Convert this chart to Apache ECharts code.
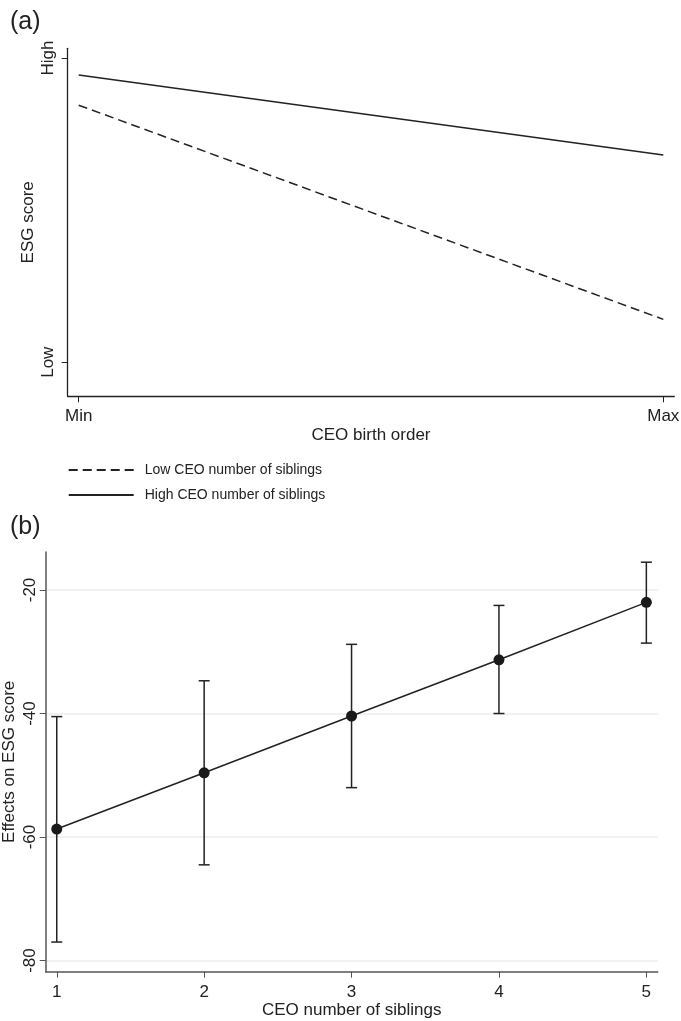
<!DOCTYPE html>
<html><head><meta charset="utf-8">
<script src="https://cdn.jsdelivr.net/npm/echarts@6/dist/echarts.min.js"></script>
<style>html,body{margin:0;padding:0;background:#fff}#c{width:681px;height:1021px}</style>
</head><body><div id="c"></div>
<script>
// ---- Panel (a) data ----
const birthOrder = [0, 1];                 // Min, Max
const birthOrderTicks = ['Min', 'Max'];
const esgLevels = [0, 1];                  // Low, High
const esgTicks = ['Low', 'High'];
const lowSiblingsESG = [0.845, 0.141];
const highSiblingsESG = [0.944, 0.681];
const seriesNames = ['Low CEO number of siblings', 'High CEO number of siblings'];

// ---- Panel (b) data ----
const siblings = [1, 2, 3, 4, 5];
const effect = [-58.7, -49.6, -40.4, -31.3, -22.0];
const ciLow = [-77.0, -64.5, -52.0, -40.0, -28.6];
const ciHigh = [-40.5, -34.7, -28.8, -22.5, -15.5];
const effectTicks = [-80, -60, -40, -20];

const FONT = 'Liberation Sans, Arial, Helvetica, sans-serif';
const INK = '#222';
const chart = echarts.init(document.getElementById('c'), null, {renderer: 'canvas'});

const txt = (size) => ({fontFamily: FONT, fontSize: size, color: INK});

chart.setOption({
  animation: false,
  backgroundColor: '#fff',
  textStyle: {fontFamily: FONT},
  title: [
    {text: '(a)', left: 10, top: 10, padding: 0, textStyle: Object.assign(txt(25), {fontWeight: 'normal'})},
    {text: '(b)', left: 10, top: 515, padding: 0, textStyle: Object.assign(txt(25), {fontWeight: 'normal'})}
  ],
  legend: {
    data: seriesNames, orient: 'vertical', left: 62.7, top: 458,
    itemWidth: 65, itemHeight: 14, itemGap: 11, selectedMode: false,
    itemStyle: {opacity: 0},
    textStyle: Object.assign(txt(14), {padding: [0, 0, 0, 6]})
  },
  grid: [
    {left: 67.7, top: 48.3, width: 606.6, height: 348, containLabel: false, outerBoundsMode: 'none'},
    {left: 45.7, top: 552, width: 612, height: 419.7, containLabel: false, outerBoundsMode: 'none'}
  ],
  xAxis: [
    {
      type: 'value', gridIndex: 0, min: -0.0188, max: 1.0188,
      axisLine: {show: true, onZero: false, lineStyle: {color: INK, width: 1.3}},
      axisTick: {show: true, customValues: birthOrder, length: 6, lineStyle: {color: INK, width: 1}},
      axisLabel: {show: true, customValues: birthOrder, margin: 12, formatter: v => birthOrderTicks[birthOrder.indexOf(v)], ...txt(17)},
      splitLine: {show: false},
      name: 'CEO birth order', nameLocation: 'middle', nameGap: 30.5, nameMoveOverlap: false, nameTextStyle: txt(17)
    },
    {
      type: 'value', gridIndex: 1, min: 0.925, max: 5.077,
      axisLine: {show: true, onZero: false, lineStyle: {color: '#555', width: 1.5}},
      axisTick: {show: true, customValues: siblings, length: 6, lineStyle: {color: '#555', width: 1}},
      axisLabel: {show: true, customValues: siblings, margin: 12.5, ...txt(17)},
      splitLine: {show: false},
      name: 'CEO number of siblings', nameLocation: 'middle', nameGap: 30, nameMoveOverlap: false, nameTextStyle: txt(17)
    }
  ],
  yAxis: [
    {
      type: 'value', gridIndex: 0, min: -0.112, max: 1.032,
      axisLine: {show: true, onZero: false, lineStyle: {color: INK, width: 1.3}},
      axisTick: {show: true, customValues: esgLevels, length: 6, lineStyle: {color: INK, width: 1}},
      axisLabel: {show: true, customValues: esgLevels, rotate: 90, margin: 11, formatter: v => esgTicks[esgLevels.indexOf(v)], ...txt(17)},
      splitLine: {show: false},
      name: 'ESG score', nameLocation: 'middle', nameGap: 31, nameMoveOverlap: false, nameTextStyle: txt(17)
    },
    {
      type: 'value', gridIndex: 1, min: -81.8, max: -13.85,
      axisLine: {show: true, onZero: false, lineStyle: {color: '#555', width: 1.5}},
      axisTick: {show: true, customValues: effectTicks, length: 6, lineStyle: {color: '#555', width: 1}},
      axisLabel: {show: true, customValues: effectTicks, rotate: 90, margin: 7, ...txt(17)},
      splitLine: {show: true, lineStyle: {color: '#ececec', width: 1.5}},
      name: 'Effects on ESG score', nameLocation: 'middle', nameGap: 28, nameMoveOverlap: false, nameTextStyle: txt(17)
    }
  ],
  series: [
    {
      name: seriesNames[0], type: 'line', xAxisIndex: 0, yAxisIndex: 0,
      data: birthOrder.map((x, i) => [x, lowSiblingsESG[i]]),
      symbol: 'none', lineStyle: {color: INK, width: 1.5, type: [9, 5]}, itemStyle: {color: INK}
    },
    {
      name: seriesNames[1], type: 'line', xAxisIndex: 0, yAxisIndex: 0,
      data: birthOrder.map((x, i) => [x, highSiblingsESG[i]]),
      symbol: 'none', lineStyle: {color: INK, width: 1.5}, itemStyle: {color: INK}
    },
    {
      name: 'CI', type: 'custom', xAxisIndex: 1, yAxisIndex: 1,
      data: siblings.map((x, i) => [x, ciLow[i], ciHigh[i]]),
      encode: {x: 0, y: [1, 2]},
      renderItem: function (params, api) {
        const x = api.value(0);
        const a = api.coord([x, api.value(1)]);
        const b = api.coord([x, api.value(2)]);
        const w = 5.5;
        const st = {stroke: INK, lineWidth: 1.5};
        return {type: 'group', children: [
          {type: 'line', shape: {x1: a[0], y1: a[1], x2: b[0], y2: b[1]}, style: st},
          {type: 'line', shape: {x1: a[0] - w, y1: a[1], x2: a[0] + w, y2: a[1]}, style: st},
          {type: 'line', shape: {x1: b[0] - w, y1: b[1], x2: b[0] + w, y2: b[1]}, style: st}
        ]};
      },
      z: 2
    },
    {
      name: 'Effect', type: 'line', xAxisIndex: 1, yAxisIndex: 1,
      data: siblings.map((x, i) => [x, effect[i]]),
      symbol: 'circle', symbolSize: 11, showSymbol: true,
      itemStyle: {color: '#1a1a1a'}, lineStyle: {color: INK, width: 1.5}, z: 3
    }
  ]
});
</script>
</body></html>
